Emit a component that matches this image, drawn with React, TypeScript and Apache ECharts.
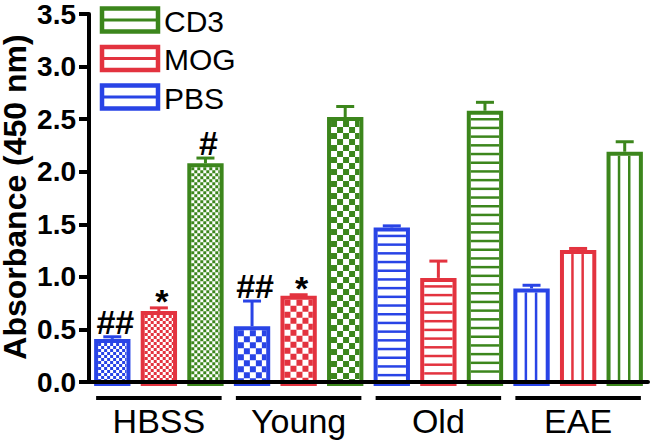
import React, { useEffect, useRef } from 'react';
import * as echarts from 'echarts';

const categories = ['HBSS', 'Young', 'Old', 'EAE'];
const seriesNames = ['PBS', 'MOG', 'CD3'];
const pbsValues = [0.41, 0.53, 1.47, 0.89];
const pbsErrors = [0.02, 0.24, 0.015, 0.03];
const mogValues = [0.675, 0.82, 0.99, 1.255];
const mogErrors = [0.03, 0.01, 0.16, 0.015];
const cd3Values = [2.08, 2.52, 2.58, 2.19];
const cd3Errors = [0.05, 0.1, 0.08, 0.095];
const pbsMarks = ['##', '##', '', ''];
const mogMarks = ['*', '*', '', ''];
const cd3Marks = ['#', '', '', ''];
const legendOrder = ['CD3', 'MOG', 'PBS'];
const yTitle = 'Absorbance (450 nm)';

const BLUE = '#2944e6';
const RED = '#e3333f';
const GREEN = '#3c861c';
const FONT = '"Liberation Sans", Arial, Helvetica, sans-serif';

const colorOf: Record<string, string> = { PBS: BLUE, MOG: RED, CD3: GREEN };

function makeRender(k: number, color: string, marks: string[]) {
  return (params: any, api: any) => {
    const i = api.value(0);
    const v = api.value(1);
    const e = api.value(2);
    const catW = api.size([1, 0])[0];
    const pitch = catW / 3;
    const barW = pitch * 0.78;
    const base = api.coord([i, 0]);
    const topPt = api.coord([i, v]);
    const capPt = api.coord([i, v + e]);
    const cx = base[0] + (k - 1) * pitch;
    const x0 = cx - barW / 2;
    const yTop = topPt[1];
    const yBot = base[1];
    const bw = 4;
    const children: any[] = [];
    children.push({
      type: 'rect',
      shape: { x: x0, y: yTop, width: barW, height: yBot - yTop },
      style: { fill: '#fff' },
    });
    const ix0 = x0 + bw;
    const ix1 = x0 + barW - bw;
    const iy0 = yTop + bw;
    const iy1 = yBot;
    if (i === 0 || i === 1) {
      const c = i === 0 ? 3 : 6;
      let r = 0;
      for (let y = iy0; y < iy1; y += c, r++) {
        const h = Math.min(c, iy1 - y);
        children.push({
          type: 'line',
          shape: { x1: ix0, y1: y + h / 2, x2: ix1, y2: y + h / 2 },
          style: { stroke: color, lineWidth: h, lineDash: [c, c], lineDashOffset: (r % 2) * c },
        });
      }
    } else if (i === 2) {
      for (let y = iy0 + 4.5; y < iy1 - 3; y += 8.7) {
        children.push({
          type: 'line',
          shape: { x1: ix0, y1: y, x2: ix1, y2: y },
          style: { stroke: color, lineWidth: 2.5 },
        });
      }
    } else {
      const w = ix1 - ix0;
      [0.3, 0.66].forEach((f) => {
        children.push({
          type: 'line',
          shape: { x1: ix0 + w * f, y1: iy0, x2: ix0 + w * f, y2: iy1 },
          style: { stroke: color, lineWidth: 2.5 },
        });
      });
    }
    children.push({
      type: 'rect',
      shape: { x: x0 + bw / 2, y: yTop + bw / 2, width: barW - bw, height: yBot - yTop },
      style: { fill: 'none', stroke: color, lineWidth: bw },
    });
    if (capPt[1] < yTop) {
      children.push({
        type: 'line',
        shape: { x1: cx, y1: yTop, x2: cx, y2: capPt[1] },
        style: { stroke: color, lineWidth: 3 },
      });
    }
    children.push({
      type: 'line',
      shape: { x1: cx - 9, y1: capPt[1], x2: cx + 9, y2: capPt[1] },
      style: { stroke: color, lineWidth: 3 },
    });
    const mark = marks[i];
    if (mark) {
      children.push({
        type: 'text',
        x: cx + 3,
        y: capPt[1] + (mark === '*' ? 10 : 2),
        style: {
          text: mark,
          fontSize: 34,
          fontWeight: 'bold',
          fontFamily: FONT,
          fill: '#000',
          align: 'center',
          verticalAlign: 'bottom',
        },
      });
    }
    return { type: 'group', children };
  };
}

function underlineRender(params: any, api: any) {
  const i = api.value(0);
  const catW = api.size([1, 0])[0];
  const pitch = catW / 3;
  const barW = pitch * 0.78;
  const base = api.coord([i, 0]);
  const y = base[1] + 16;
  return {
    type: 'line',
    shape: { x1: base[0] - pitch - barW / 2 + 2, y1: y, x2: base[0] + pitch + barW / 2 - 2, y2: y },
    style: { stroke: '#000', lineWidth: 4 },
  };
}

export default function App() {
  const ref = useRef<HTMLDivElement>(null);
  useEffect(() => {
    document.body.style.margin = '0';
    if (!ref.current) return;
    const chart = echarts.init(ref.current, undefined, { renderer: 'svg' });
    const valuesList = [pbsValues, mogValues, cd3Values];
    const errorsList = [pbsErrors, mogErrors, cd3Errors];
    const marksList = [pbsMarks, mogMarks, cd3Marks];
    const series: any[] = seriesNames.map((name, k) => ({
      type: 'custom',
      name,
      renderItem: makeRender(k, colorOf[name], marksList[k]),
      data: categories.map((_, i) => [i, valuesList[k][i], errorsList[k][i]]),
      encode: { x: 0, y: 1 },
      clip: false,
    }));
    series.push({
      type: 'custom',
      name: 'groups',
      renderItem: underlineRender,
      data: categories.map((_, i) => [i, 0]),
      encode: { x: 0, y: 1 },
      clip: false,
      silent: true,
    });
    const graphics: any[] = [];
    legendOrder.forEach((name, j) => {
      const y = 6 + j * 38.5;
      const color = colorOf[name];
      graphics.push({
        type: 'rect',
        shape: { x: 102, y: y + 2.5, width: 56, height: 23 },
        style: { fill: '#fff', stroke: color, lineWidth: 4.5 },
      });
      graphics.push({
        type: 'line',
        shape: { x1: 104, y1: y + 14, x2: 156, y2: y + 14 },
        style: { stroke: color, lineWidth: 3 },
      });
      graphics.push({
        type: 'text',
        x: 164,
        y: y + 15,
        style: {
          text: name,
          fontSize: 30,
          fontFamily: FONT,
          fill: '#000',
          verticalAlign: 'middle',
        },
      });
    });
    graphics.push({
      type: 'text',
      x: 15,
      y: 197,
      rotation: Math.PI / 2,
      style: {
        text: yTitle,
        fontSize: 32,
        lineHeight: 24,
        fontWeight: 'bold',
        fontFamily: FONT,
        fill: '#000',
        align: 'center',
        verticalAlign: 'middle',
      },
    });
    chart.setOption({
      animation: false,
      grid: {
        left: 89,
        right: 2,
        top: 14,
        bottom: 65,
        containLabel: false,
        outerBoundsMode: 'none',
      },
      xAxis: {
        type: 'category',
        data: categories,
        z: 10,
        axisLine: { lineStyle: { color: '#000', width: 4 } },
        axisTick: { show: false },
        axisLabel: { fontSize: 34, color: '#000', fontFamily: FONT, margin: 22 },
      },
      yAxis: {
        type: 'value',
        min: 0,
        max: 3.5,
        interval: 0.5,
        z: 10,
        axisLine: { show: true, lineStyle: { color: '#000', width: 4 } },
        axisTick: { show: true, length: 10, lineStyle: { color: '#000', width: 4 } },
        axisLabel: {
          fontSize: 28,
          fontWeight: 'bold',
          color: '#000',
          fontFamily: FONT,
          margin: 13,
          formatter: (v: number) => v.toFixed(1),
        },
        splitLine: { show: false },
      },
      series,
      graphic: graphics,
    });
    return () => chart.dispose();
  }, []);
  return <div ref={ref} style={{ width: 650, height: 447 }} />;
}
